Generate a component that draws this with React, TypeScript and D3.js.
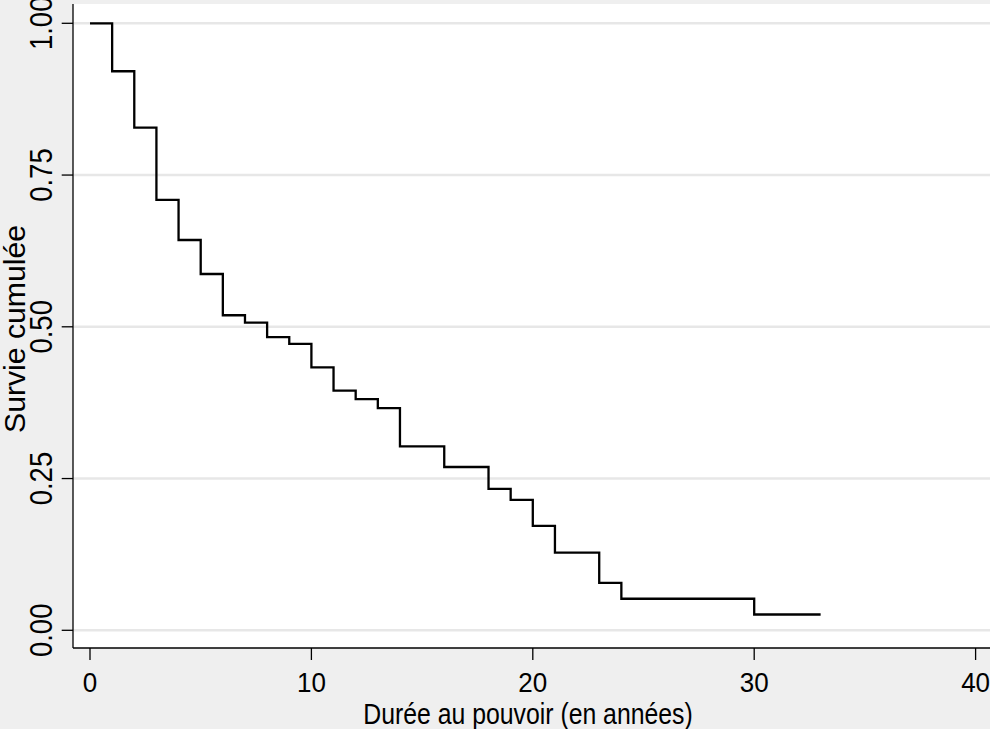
import React from "react";
import * as d3 from "d3";

const times = [0, 1, 2, 3, 4, 5, 6, 7, 8, 9, 10, 11, 12, 13, 14, 16, 18, 19, 20, 21, 23, 24, 30];
const survival = [1.0, 0.921, 0.828, 0.709, 0.643, 0.587, 0.519, 0.507, 0.483, 0.472, 0.433, 0.395, 0.381, 0.366, 0.303, 0.269, 0.233, 0.215, 0.172, 0.128, 0.078, 0.052, 0.026];
const endTime = 33;
const xTicks = [0, 10, 20, 30, 40];
const yTicks = [0, 0.25, 0.5, 0.75, 1];
const yTickLabels = ["0.00", "0.25", "0.50", "0.75", "1.00"];
const xTitle = "Durée au pouvoir (en années)";
const yTitle = "Survie cumulée";

const W = 990;
const H = 729;
const plotLeft = 73;
const plotTop = 4;
const plotBottom = 648;
const plotRight = 990;

export default function App() {
  const x = d3.scaleLinear().domain([0, 40]).range([90, 975.6]);
  const y = d3.scaleLinear().domain([0, 1]).range([630.3, 23.3]);

  const pts: [number, number][] = times.map((t, i) => [t, survival[i]]);
  pts.push([endTime, survival[survival.length - 1]]);
  const line = d3
    .line<[number, number]>()
    .x((d) => x(d[0]))
    .y((d) => y(d[1]))
    .curve(d3.curveStepAfter);

  const font = "'Liberation Sans', Arial, sans-serif";

  return (
    <svg width={W} height={H} style={{ position: "absolute", left: 0, top: 0, display: "block" }}>
      <rect x={0} y={0} width={W} height={H} fill="#efefef" />
      <rect x={plotLeft} y={plotTop} width={plotRight - plotLeft} height={plotBottom - plotTop} fill="#ffffff" />
      {yTicks.map((v) => (
        <line key={"g" + v} x1={plotLeft} x2={plotRight} y1={y(v)} y2={y(v)} stroke="#e7e7e7" strokeWidth={2.4} />
      ))}
      <path d={line(pts) || ""} fill="none" stroke="#000" strokeWidth={2.3} strokeLinejoin="miter" />
      <line x1={plotLeft} x2={plotLeft} y1={plotTop} y2={plotBottom} stroke="#000" strokeWidth={1.3} />
      <line x1={plotLeft} x2={plotRight} y1={plotBottom} y2={plotBottom} stroke="#000" strokeWidth={1.3} />
      {yTicks.map((v, i) => (
        <g key={"yt" + v}>
          <line x1={61.7} x2={plotLeft} y1={y(v)} y2={y(v)} stroke="#000" strokeWidth={1.3} />
          <text
            transform={`translate(51.7, ${y(v)}) rotate(-90) scale(1, 1.12)`}
            textAnchor="middle"
            fontFamily={font}
            fontSize={27.5}
            fill="#000"
          >
            {yTickLabels[i]}
          </text>
        </g>
      ))}
      {xTicks.map((v) => (
        <g key={"xt" + v}>
          <line x1={x(v)} x2={x(v)} y1={plotBottom} y2={660} stroke="#000" strokeWidth={1.3} />
          <text
            transform={`translate(${x(v)}, 692) scale(1, 1.06)`}
            textAnchor="middle"
            fontFamily={font}
            fontSize={26}
            fill="#000"
          >
            {v}
          </text>
        </g>
      ))}
      <text
        transform={`translate(528, 724) scale(1, 1.17)`}
        textAnchor="middle"
        fontFamily={font}
        fontSize={24.8}
        fill="#000"
      >
        {xTitle}
      </text>
      <text
        transform={`translate(25, 329) rotate(-90)`}
        textAnchor="middle"
        fontFamily={font}
        fontSize={29}
        textLength={208}
        lengthAdjust="spacingAndGlyphs"
        fill="#000"
      >
        {yTitle}
      </text>
    </svg>
  );
}
